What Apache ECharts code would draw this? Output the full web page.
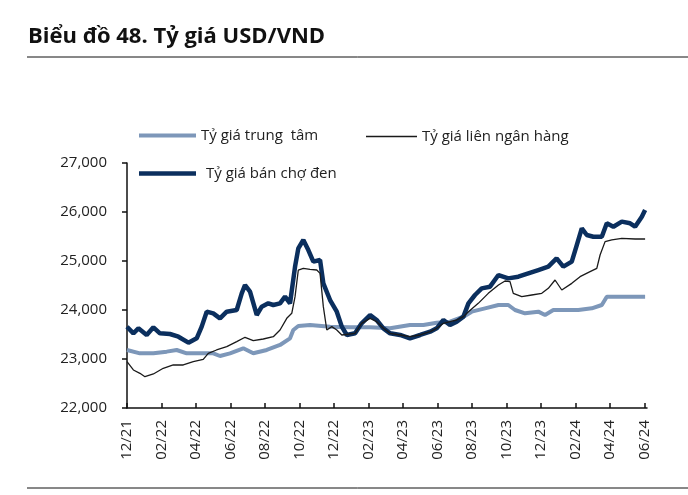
<!DOCTYPE html>
<html>
<head>
<meta charset="utf-8">
<script src="https://cdn.jsdelivr.net/npm/echarts@6/dist/echarts.min.js"></script>
<style>
  html, body { margin: 0; padding: 0; background: #fff; }
  #chart { width: 688px; height: 495px; }
</style>
</head>
<body>
<div id="chart"></div>
<script>
// x = months since 12/2021
var xTickLabels = ['12/21', '02/22', '04/22', '06/22', '08/22', '10/22', '12/22', '02/23',
  '04/23', '06/23', '08/23', '10/23', '12/23', '02/24', '04/24', '06/24'];
var yTickLabels = ['22,000', '23,000', '24,000', '25,000', '26,000', '27,000'];

// Tỷ giá trung tâm
var centralX = [0, 0.75, 1.53, 2.3, 2.88, 3.46, 4.23, 5.0, 5.39, 5.97, 6.74, 7.32, 8.1, 8.87,
  9.45, 9.64, 9.93, 10.61, 11.77, 12.93, 14.09, 15.25, 16.4, 17.18, 17.95, 18.72, 19.5, 19.98,
  20.75, 21.53, 22.1, 22.49, 23.07, 23.84, 24.23, 24.71, 25.39, 26.16, 26.94, 27.52, 27.81,
  28.68, 30.03];
var centralRate = [23184, 23116, 23116, 23150, 23184, 23116, 23116, 23116, 23061, 23116, 23218,
  23116, 23184, 23286, 23422, 23592, 23673, 23694, 23660, 23646, 23646, 23626, 23694, 23694,
  23741, 23762, 23864, 23966, 24034, 24102, 24102, 24000, 23932, 23966, 23898, 24000, 24000,
  24000, 24034, 24102, 24272, 24272, 24272];

// Tỷ giá liên ngân hàng
var interbankX = [0, 0.37, 0.75, 1.04, 1.53, 2.1, 2.68, 3.26, 3.84, 4.42, 4.71, 5.19, 5.78,
  6.36, 6.84, 7.32, 7.9, 8.48, 8.87, 9.26, 9.55, 9.74, 9.93, 10.22, 10.61, 11.0, 11.19, 11.38,
  11.58, 11.87, 12.16, 12.45, 13.22, 13.6, 14.09, 14.47, 14.86, 15.25, 15.83, 16.4, 16.99,
  17.57, 17.95, 18.34, 18.72, 19.11, 19.5, 19.79, 20.36, 20.94, 21.53, 21.91, 22.2, 22.39,
  22.88, 23.46, 24.04, 24.42, 24.81, 25.2, 25.78, 26.26, 26.84, 27.23, 27.42, 27.71, 28.1,
  28.68, 29.45, 30.03];
var interbankRate = [22945, 22776, 22708, 22639, 22694, 22810, 22878, 22878, 22945, 22993,
  23116, 23184, 23252, 23354, 23443, 23374, 23408, 23455, 23592, 23830, 23932, 24272, 24816,
  24850, 24830, 24816, 24748, 24068, 23592, 23660, 23592, 23490, 23524, 23728, 23830, 23762,
  23626, 23524, 23490, 23456, 23490, 23558, 23626, 23728, 23762, 23796, 23864, 23966, 24136,
  24340, 24510, 24592, 24578, 24340, 24272, 24306, 24340, 24442, 24612, 24408, 24544, 24680,
  24782, 24850, 25122, 25395, 25429, 25463, 25449, 25449];

// Tỷ giá bán chợ đen
var blackX = [0, 0.37, 0.66, 1.14, 1.53, 1.91, 2.49, 2.98, 3.56, 4.04, 4.33, 4.62, 5.0, 5.39,
  5.78, 6.36, 6.65, 6.84, 7.13, 7.52, 7.81, 8.19, 8.48, 8.87, 9.16, 9.45, 9.74, 9.93, 10.22,
  10.51, 10.8, 11.19, 11.38, 11.77, 12.16, 12.45, 12.74, 13.22, 13.6, 14.09, 14.47, 14.86,
  15.25, 15.83, 16.4, 16.99, 17.57, 17.95, 18.34, 18.72, 19.11, 19.5, 19.79, 20.17, 20.56,
  21.04, 21.53, 22.1, 22.68, 23.26, 23.84, 24.42, 24.9, 25.29, 25.78, 26.07, 26.36, 26.65,
  27.03, 27.52, 27.81, 28.19, 28.68, 29.16, 29.45, 29.84, 30.03];
var blackRate = [23659, 23524, 23626, 23490, 23646, 23524, 23510, 23455, 23333, 23422, 23660,
  23966, 23932, 23830, 23966, 24000, 24340, 24510, 24374, 23898, 24068, 24136, 24102, 24136,
  24272, 24136, 24884, 25258, 25429, 25224, 24986, 25020, 24544, 24204, 23966, 23660, 23490,
  23524, 23728, 23898, 23796, 23626, 23524, 23490, 23422, 23490, 23558, 23626, 23796, 23694,
  23762, 23864, 24136, 24306, 24442, 24476, 24714, 24646, 24680, 24748, 24816, 24884, 25054,
  24884, 24986, 25326, 25667, 25530, 25496, 25496, 25769, 25700, 25803, 25769, 25700, 25905,
  26041];

function pairs(xs, ys) {
  return xs.map(function (x, i) { return [x, ys[i]]; });
}

var font = 'Open Sans';
var tickValues = xTickLabels.map(function (_, i) { return i * 2; });
var legendText = { fontFamily: font, fontSize: 15, color: '#222' };

var chart = echarts.init(document.getElementById('chart'));
chart.setOption({
  animation: false,
  textStyle: { fontFamily: font },
  title: {
    text: 'Biểu đồ 48. Tỷ giá USD/VND',
    left: 23,
    top: 21,
    textStyle: { fontFamily: font, fontSize: 22, fontWeight: 'bold', color: '#111' }
  },
  graphic: [
    { type: 'line', shape: { x1: 27, y1: 57, x2: 688, y2: 57 }, style: { stroke: '#111', lineWidth: 1 } },
    { type: 'line', shape: { x1: 27, y1: 488, x2: 688, y2: 488 }, style: { stroke: '#111', lineWidth: 1 } }
  ],
  legend: [
    {
      data: ['Tỷ giá trung  tâm'], left: 139, top: 128, padding: 0,
      icon: 'rect', itemWidth: 57, itemHeight: 4, textStyle: legendText
    },
    {
      data: ['Tỷ giá liên ngân hàng'], left: 366, top: 129, padding: 0,
      icon: 'rect', itemWidth: 51, itemHeight: 1.5, textStyle: legendText
    },
    {
      data: ['Tỷ giá bán chợ đen'], left: 139, top: 166, padding: 0,
      icon: 'rect', itemWidth: 57, itemHeight: 4.5,
      textStyle: Object.assign({ padding: [0, 0, 0, 5] }, legendText)
    }
  ],
  grid: { left: 127, right: 41, top: 163, bottom: 87, containLabel: false },
  xAxis: {
    type: 'value',
    min: 0,
    max: 30.14,
    interval: 2,
    splitLine: { show: false },
    axisLine: { lineStyle: { color: '#111', width: 1.5 } },
    axisTick: { inside: true, length: 5, customValues: tickValues, lineStyle: { color: '#111', width: 1.5 } },
    axisLabel: {
      rotate: 90,
      margin: 12,
      customValues: tickValues,
      fontFamily: font,
      fontSize: 15,
      color: '#222',
      formatter: function (v) {
        var i = Math.round(v / 2);
        return Math.abs(v - i * 2) < 1e-6 && xTickLabels[i] ? xTickLabels[i] : '';
      }
    }
  },
  yAxis: {
    type: 'value',
    min: 22000,
    max: 27000,
    interval: 1000,
    splitLine: { show: false },
    axisLine: { show: true, lineStyle: { color: '#111', width: 1.5 } },
    axisTick: { show: true, length: 5, lineStyle: { color: '#111', width: 1.5 } },
    axisLabel: {
      margin: 20,
      fontFamily: font,
      fontSize: 15,
      color: '#222',
      formatter: function (v) { return yTickLabels[Math.round((v - 22000) / 1000)]; }
    }
  },
  series: [
    {
      name: 'Tỷ giá trung  tâm', type: 'line', symbol: 'none',
      data: pairs(centralX, centralRate),
      lineStyle: { color: '#7d97b9', width: 4 }, itemStyle: { color: '#7d97b9' }
    },
    {
      name: 'Tỷ giá bán chợ đen', type: 'line', symbol: 'none',
      data: pairs(blackX, blackRate),
      lineStyle: { color: '#0b2f5e', width: 4.5 }, itemStyle: { color: '#0b2f5e' }
    },
    {
      name: 'Tỷ giá liên ngân hàng', type: 'line', symbol: 'none',
      data: pairs(interbankX, interbankRate),
      lineStyle: { color: '#1a1a1a', width: 1.3 }, itemStyle: { color: '#1a1a1a' }
    }
  ]
});
window.onresize = function () {
  chart.resize();
};
</script>
</body>
</html>
